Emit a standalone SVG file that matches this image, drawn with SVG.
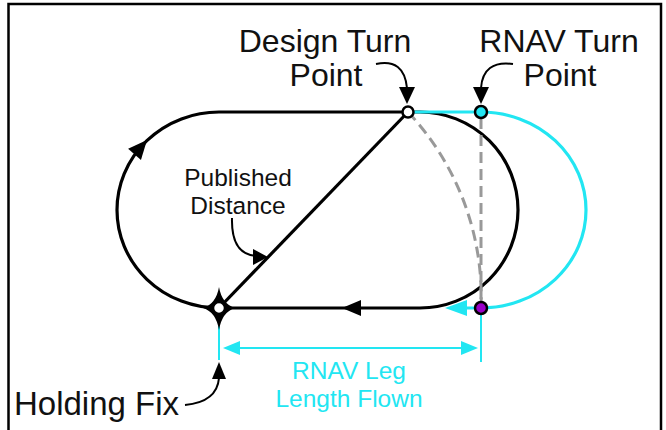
<svg xmlns="http://www.w3.org/2000/svg" width="666" height="430" viewBox="0 0 666 430">
<style>
.t{font-family:"Liberation Sans",Arial,sans-serif;fill:#111}
.c{font-family:"Liberation Sans",Arial,sans-serif;fill:#22e6f2}
.blk{fill:none;stroke:#000;stroke-width:3.2}
.cy{fill:none;stroke:#22e6f2;stroke-width:3.2}
.dash{fill:none;stroke:#999;stroke-width:3;stroke-dasharray:11 6}
.lbl{fill:none;stroke:#000;stroke-width:2}
</style>
<rect x="0" y="0" width="666" height="430" fill="#fff"/>
<rect x="8.5" y="4" width="652.5" height="440" fill="none" stroke="#000" stroke-width="2.5"/>
<g id="connectors">
  <path class="blk" d="M219,308 A102,98 0 0 1 219,112 L420,112 A98,98 0 0 1 420,308 Z"/>
  <line class="blk" x1="219" y1="308" x2="408" y2="112"/>
  <path class="dash" d="M408,112 A270,270 0 0 1 481,308"/>
  <line class="dash" x1="481" y1="118" x2="481" y2="302"/>
  <path class="cy" d="M408,112 L481,112 A105,98 0 0 1 481,308 L462,308"/>
  <polygon points="445,308 467,300 467,316" fill="#22e6f2"/>
  <polygon points="342,308 361,300 361,316" fill="#000"/>
  <polygon points="0,0 -19,-8.5 -19,8.5" fill="#000" transform="translate(147,140) rotate(-49)"/>
  <path class="lbl" d="M376,64 Q404,58 407,88"/>
  <polygon points="407,104 399,87 415,87" fill="#000"/>
  <path class="lbl" d="M513,64 Q483,60 481,88"/>
  <polygon points="481,104 473,87 489,87" fill="#000"/>
  <path class="lbl" d="M232,218 Q231,254 256,256"/>
  <polygon points="268,257 253,249 253,265" fill="#000"/>
  <path class="lbl" d="M185,405 Q217,402 219,378"/>
  <polygon points="219,362 212,379 226,379" fill="#000"/>
  <g stroke="#22e6f2" stroke-width="2" fill="none">
    <line x1="219" y1="326" x2="219" y2="360"/>
    <line x1="481" y1="314" x2="481" y2="362"/>
    <line x1="236" y1="348" x2="464" y2="348"/>
  </g>
  <polygon points="223,348 240,341 240,355" fill="#22e6f2"/>
  <polygon points="478,348 461,341 461,355" fill="#22e6f2"/>
</g>
<g id="holding-fix">
  <path d="M219,287 Q222,304 235,308 Q222,312 219,330 Q216,312 203,308 Q216,304 219,287 Z" fill="#000"/>
  <circle cx="219" cy="308" r="5.5" fill="#fff" stroke="#000" stroke-width="1.5"/>
  <text class="t" x="14" y="415" font-size="33">Holding Fix</text>
</g>
<g id="design-turn-point">
  <circle cx="408" cy="112" r="5.5" fill="#fff" stroke="#000" stroke-width="2.5"/>
  <text class="t" x="325" y="52" font-size="32" text-anchor="middle">Design Turn</text>
  <text class="t" x="326" y="86" font-size="32" text-anchor="middle">Point</text>
</g>
<g id="rnav-turn-point">
  <circle cx="481" cy="112" r="6" fill="#22e6f2" stroke="#000" stroke-width="2.5"/>
  <text class="t" x="559" y="52" font-size="32" text-anchor="middle">RNAV Turn</text>
  <text class="t" x="560" y="86" font-size="32" text-anchor="middle">Point</text>
</g>
<g id="rnav-end-point">
  <circle cx="481" cy="308" r="6" fill="#9a00c8" stroke="#000" stroke-width="2.5"/>
</g>
<g id="published-distance">
  <text class="t" x="238" y="186" font-size="24.5" text-anchor="middle">Published</text>
  <text class="t" x="238" y="214" font-size="24.5" text-anchor="middle">Distance</text>
</g>
<g id="rnav-leg">
  <text class="c" x="349" y="379" font-size="24.5" text-anchor="middle">RNAV Leg</text>
  <text class="c" x="349" y="407" font-size="24.5" text-anchor="middle">Length Flown</text>
</g>
</svg>
